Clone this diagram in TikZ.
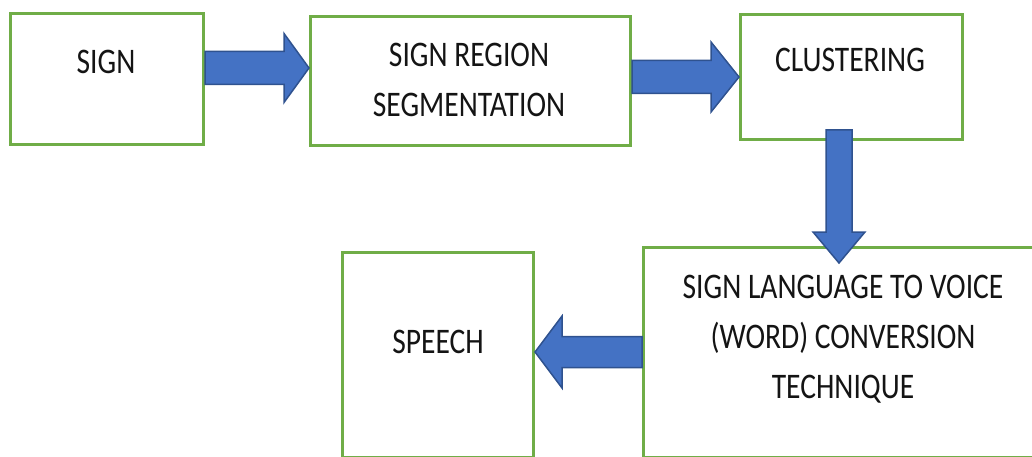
\documentclass[tikz,border=0pt]{standalone}
\usepackage{fontspec}
\setmainfont{Carlito}[FakeStretch=0.82]
\usepackage{xcolor}
\usetikzlibrary{calc}
\definecolor{colBox}   {RGB}{112, 173,  71}
\definecolor{colArrow} {RGB}{ 68, 114, 196}
\definecolor{colArrowD}{RGB}{ 47,  82, 143}
\definecolor{colText}  {RGB}{ 20,  20,  20}
\tikzset{
  box/.style 2 args={
    rectangle, draw=colBox, fill=white, line width=3pt,
    minimum width=#1, minimum height=#2, inner sep=0pt
  },
  boxtext/.style={
    anchor=north, align=center, inner sep=0pt, text=colText,
    font=\fontsize{36}{50}\selectfont
  },
  % #1 shaft width, #2 head width, #3 head length
  blockarrow/.style n args={3}{
    draw=colArrowD, fill=colArrow, line width=1.5pt, line join=miter,
    to path={
      let \p1=(\tikztostart), \p2=(\tikztotarget),
          \p3=($(\p2)!#3!(\p1)$) in
      ($(\p1)!#1/2!90:(\p2)$) -- ($(\p3)!#1/2!-90:(\p1)$)
      -- ($(\p3)!#2/2!-90:(\p1)$) -- (\p2)
      -- ($(\p3)!#2/2!90:(\p1)$) -- ($(\p3)!#1/2!90:(\p1)$)
      -- ($(\p1)!#1/2!-90:(\p2)$) -- cycle
    }
  },
}

\begin{document}
\begin{tikzpicture}[x=1pt, y=-1pt]

\useasboundingbox (0,0) rectangle (1032,457);
\clip (0,0) rectangle (1032,457);

%% ── boxes ──────────────────────────────────────────────
\node[box={193pt}{131pt}] (sign)   at (107,79.5)  {};
\node[box={320pt}{129pt}] (seg)    at (470.5,81)  {};
\node[box={222pt}{125pt}] (clust)  at (851.5,77)  {};
\node[box={399pt}{210pt}] (conv)   at (843,352)   {};
\node[box={191pt}{205pt}] (speech) at (438,354.5) {};

%% ── box texts ──────────────────────────────────────────
\node[boxtext] (signtxt)   at (106,50)  {SIGN};
\node[boxtext] (segtxt)    at (469,43)  {SIGN REGION\\SEGMENTATION};
\node[boxtext] (clusttxt)  at (850,48)  {CLUSTERING};
\node[boxtext] (convtxt)   at (843,275)
  {SIGN LANGUAGE TO VOICE\\(WORD) CONVERSION\\TECHNIQUE};
\node[boxtext] (speechtxt) at (438,330) {SPEECH};

%% ── block arrows ───────────────────────────────────────
\draw[blockarrow={33pt}{69pt}{25pt}] (sign.east |- 0,68) to (seg.west |- 0,68);
\draw[blockarrow={33pt}{70pt}{28pt}] (seg.east |- 0,77) to (clust.west |- 0,77);
\draw[blockarrow={26pt}{52pt}{31pt}]
  ($(clust.south)+(-12.5,-11)$) to ($(conv.north)+(-4,17.5)$);
\draw[blockarrow={31pt}{72pt}{27pt}] (conv.west |- 0,352) to (speech.east |- 0,352);

\end{tikzpicture}
\end{document}
